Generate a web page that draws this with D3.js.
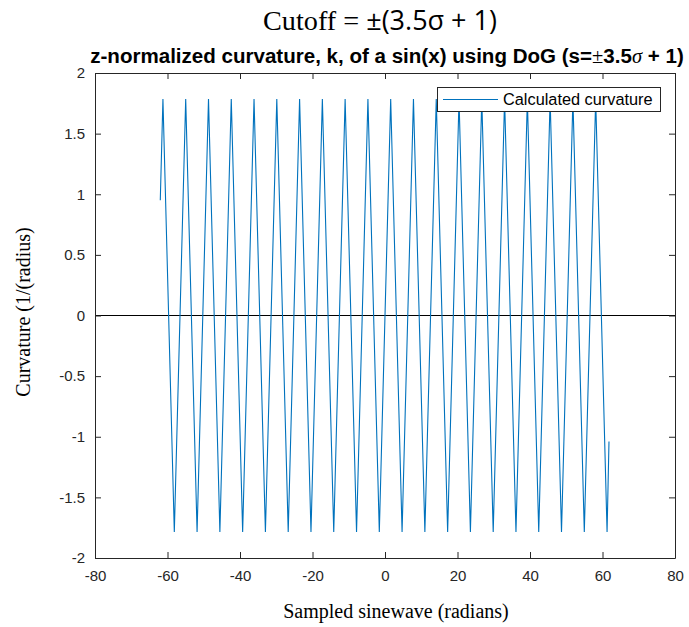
<!DOCTYPE html>
<html>
<head>
<meta charset="utf-8">
<script src="https://cdn.jsdelivr.net/npm/d3@7/dist/d3.min.js"></script>
<style>
  html, body { margin: 0; padding: 0; background: #fff; }
  svg { display: block; }
</style>
</head>
<body>
<svg id="chart" width="689" height="627"></svg>
<script>
// ---- Data ----
const seriesName = "Calculated curvature";
// vertices of the curve: start, alternating peaks / troughs, end
const curveX = [-61.99, -61.26, -58.12, -54.98, -51.84, -48.69, -45.55, -42.41, -39.27, -36.13, -32.99,
  -29.85, -26.70, -23.56, -20.42, -17.28, -14.14, -11.00, -7.85, -4.71, -1.57,
  1.57, 4.71, 7.85, 11.00, 14.14, 17.28, 20.42, 23.56, 26.70, 29.85,
  32.99, 36.13, 39.27, 42.41, 45.55, 48.69, 51.84, 54.98, 58.12, 61.26, 61.79];
const curveY = [0.95, 1.786, -1.786, 1.786, -1.786, 1.786, -1.786, 1.786, -1.786, 1.786, -1.786,
  1.786, -1.786, 1.786, -1.786, 1.786, -1.786, 1.786, -1.786, 1.786, -1.786,
  1.786, -1.786, 1.786, -1.786, 1.786, -1.786, 1.786, -1.786, 1.786, -1.786,
  1.786, -1.786, 1.786, -1.786, 1.786, -1.786, 1.786, -1.786, 1.786, -1.786, -1.04];
const xTicks = [-80, -60, -40, -20, 0, 20, 40, 60, 80];
const yTicks = [-2, -1.5, -1, -0.5, 0, 0.5, 1, 1.5, 2];
const xDomain = [-80, 80];
const yDomain = [-2, 2];

// ---- Layout ----
const svg = d3.select("#chart");
const L = 95, R = 675, T = 73, B = 558;
const x = d3.scaleLinear().domain(xDomain).range([L, R]);
const y = d3.scaleLinear().domain(yDomain).range([B, T]);
const axisColor = "#262626";
const tickFont = "Liberation Sans, Arial, sans-serif";

svg.append("defs").append("clipPath").attr("id", "clip")
  .append("rect").attr("x", L).attr("y", T).attr("width", R - L).attr("height", B - T);

// zero line
svg.append("line")
  .attr("x1", x(xDomain[0])).attr("x2", x(xDomain[1]))
  .attr("y1", y(0)).attr("y2", y(0))
  .attr("stroke", "#000").attr("stroke-width", 1);

// curve
const pts = curveX.map((v, i) => [v, curveY[i]]);
svg.append("path")
  .datum(pts)
  .attr("clip-path", "url(#clip)")
  .attr("fill", "none")
  .attr("stroke", "#0072BD")
  .attr("stroke-width", 1.1)
  .attr("d", d3.line().x(d => x(d[0])).y(d => y(d[1])));

// axes (MATLAB style: ticks inside, box on)
const tl = 6;
const axB = svg.append("g").attr("transform", `translate(0,${B})`)
  .call(d3.axisBottom(x).tickValues(xTicks).tickSizeInner(-tl).tickSizeOuter(0).tickPadding(12));
const axT = svg.append("g").attr("transform", `translate(0,${T})`)
  .call(d3.axisTop(x).tickValues(xTicks).tickSizeInner(-tl).tickSizeOuter(0).tickFormat(""));
const axL = svg.append("g").attr("transform", `translate(${L},0)`)
  .call(d3.axisLeft(y).tickValues(yTicks).tickSizeInner(-tl).tickSizeOuter(0).tickPadding(10));
const axR = svg.append("g").attr("transform", `translate(${R},0)`)
  .call(d3.axisRight(y).tickValues(yTicks).tickSizeInner(-tl).tickSizeOuter(0).tickFormat(""));

[axB, axT, axL, axR].forEach(g => {
  g.select(".domain").attr("stroke", axisColor).attr("stroke-width", 1);
  g.selectAll(".tick line").attr("stroke", axisColor).attr("stroke-width", 1);
  g.selectAll(".tick text").attr("fill", axisColor)
    .style("font-family", tickFont).style("font-size", "15px");
});
axB.selectAll(".tick text").text(d => String(d));
axL.selectAll(".tick text").text(d => String(d));

// fit a text element to a target width by scaling its font sizes
function fitWidth(sel, target) {
  const w = sel.node().getBBox().width;
  const k = target / w;
  const spans = sel.selectAll("tspan");
  if (spans.empty()) {
    const s = parseFloat(sel.node().style.fontSize);
    sel.style("font-size", (s * k) + "px");
  } else {
    spans.each(function () {
      const s = parseFloat(this.style.fontSize);
      d3.select(this).style("font-size", (s * k) + "px");
    });
  }
}

// ---- Titles ----
const title = svg.append("text")
  .attr("x", 380).attr("y", 30).attr("text-anchor", "middle")
  .attr("fill", "#000");
title.append("tspan").text("Cutoff = ")
  .style("font-family", "Liberation Serif, Times New Roman, serif").style("font-size", "23px");
title.append("tspan").text("±(3.5σ + 1)")
  .style("font-family", "Open Sans, Noto Sans, sans-serif").style("font-size", "22px");
fitWidth(title, 234);

const sub = svg.append("text")
  .attr("x", 387).attr("y", 63).attr("text-anchor", "middle")
  .style("font-family", "Liberation Sans, Arial, sans-serif")
  .style("font-weight", "bold").attr("fill", "#000");
sub.append("tspan").text("z-normalized curvature, k, of a sin(x) using DoG (s=").style("font-size", "15px");
sub.append("tspan").text("±").style("font-size", "15px").style("font-weight", "normal").style("font-family", "Liberation Serif, serif");
sub.append("tspan").text("3.5").style("font-size", "15px");
sub.append("tspan").text("σ").style("font-size", "15px").style("font-style", "italic").style("font-weight", "normal").style("font-family", "Liberation Serif, serif");
sub.append("tspan").text(" + 1)").style("font-size", "15px");
fitWidth(sub, 594);

// axis labels
svg.append("text")
  .attr("x", 396).attr("y", 618).attr("text-anchor", "middle")
  .style("font-family", "Liberation Serif, Times New Roman, serif").style("font-size", "20px")
  .attr("fill", "#000").text("Sampled sinewave (radians)");
svg.append("text")
  .attr("transform", `translate(30,312) rotate(-90)`)
  .attr("text-anchor", "middle")
  .style("font-family", "Liberation Serif, Times New Roman, serif").style("font-size", "20px")
  .attr("fill", "#000").text("Curvature (1/(radius)");

// legend
const lg = svg.append("g");
lg.append("rect").attr("x", 437.5).attr("y", 87.5).attr("width", 223).attr("height", 24)
  .attr("fill", "#fff").attr("stroke", axisColor).attr("stroke-width", 1);
lg.append("line").attr("x1", 443).attr("x2", 498).attr("y1", 99.5).attr("y2", 99.5)
  .attr("stroke", "#0072BD").attr("stroke-width", 1.1);
const lgText = lg.append("text").attr("x", 503).attr("y", 105)
  .style("font-family", "Liberation Sans, Arial, sans-serif").style("font-size", "14px")
  .attr("fill", "#000").text(seriesName);
fitWidth(lgText, 150);
</script>
</body>
</html>
